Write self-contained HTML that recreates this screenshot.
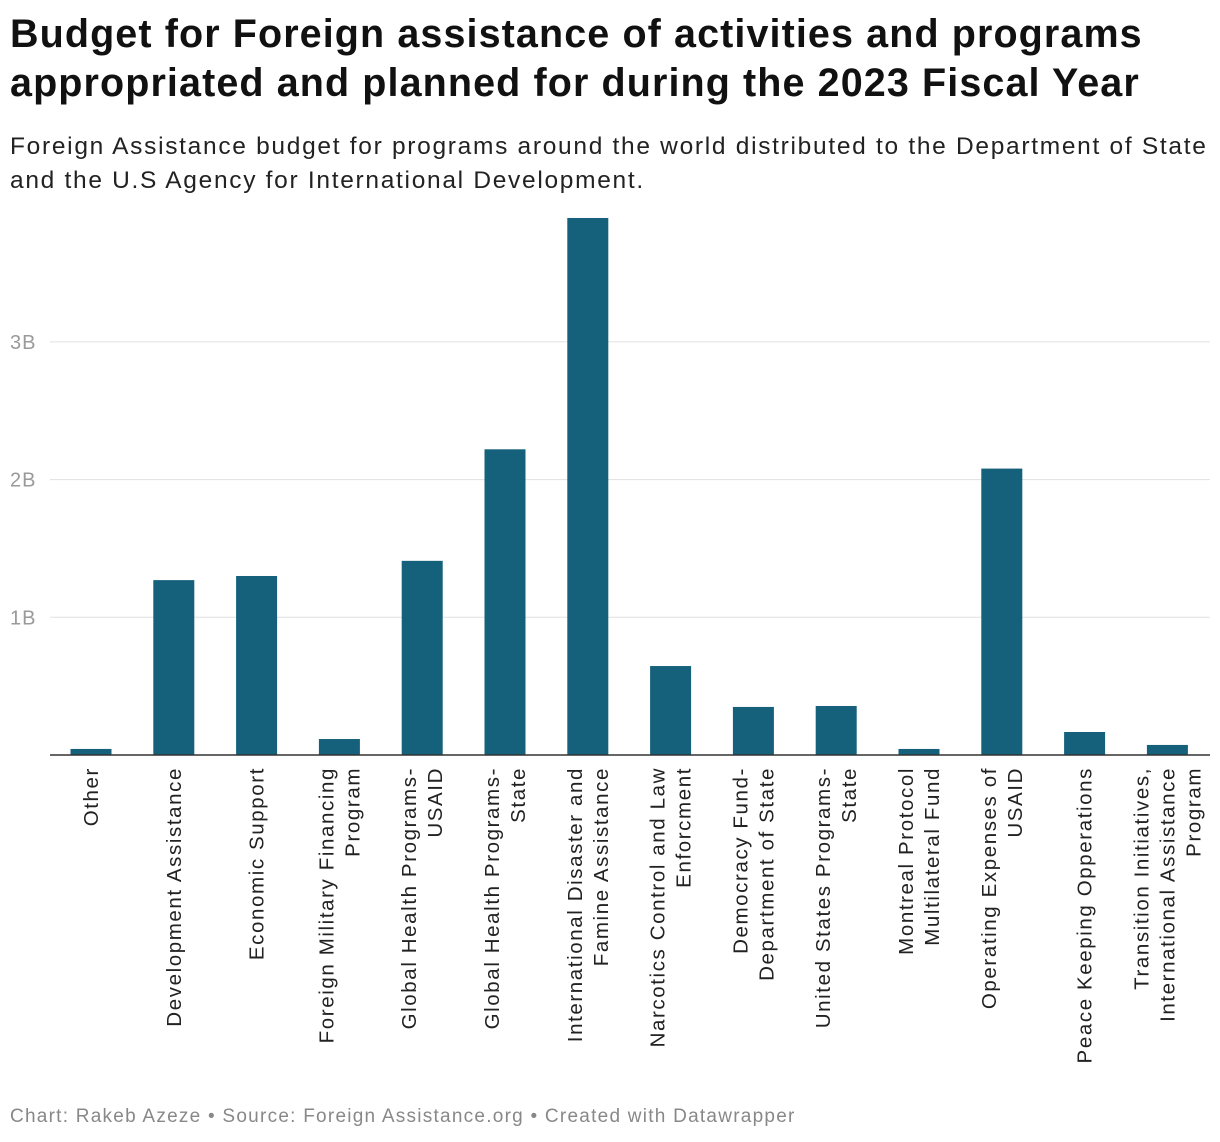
<!DOCTYPE html>
<html><head><meta charset="utf-8"><style>
body{margin:0;background:#fff;font-family:"Liberation Sans",Arial,sans-serif;}
#wrap{position:relative;width:1220px;height:1142px;overflow:hidden}
h1{position:absolute;left:10px;top:10px;margin:0;font-size:39.5px;line-height:49px;font-weight:bold;color:#111;letter-spacing:1.1px;white-space:nowrap}
.sub{position:absolute;left:10px;top:130px;margin:0;font-size:24.5px;line-height:34px;color:#222;letter-spacing:1.7px;white-space:nowrap}
.foot{position:absolute;left:10px;top:1106px;font-size:19px;color:#888;letter-spacing:1.25px}
svg{position:absolute;left:0;top:0}
</style></head><body>
<div id="wrap">
<h1>Budget for Foreign assistance of activities and programs<br>appropriated and planned for during the 2023 Fiscal Year</h1>
<p class="sub">Foreign Assistance budget for programs around the world distributed to the Department of State<br>and the U.S Agency for International Development.</p>
<svg id="chart" width="1220" height="1142"></svg>
<div class="foot">Chart: Rakeb Azeze • Source: Foreign Assistance.org • Created with Datawrapper</div>
</div>
<script>
const categories=[["Other"],["Development Assistance"],["Economic Support"],["Foreign Military Financing","Program"],["Global Health Programs-","USAID"],["Global Health Programs-","State"],["International Disaster and","Famine Assistance"],["Narcotics Control and Law","Enforcment"],["Democracy Fund-","Department of State"],["United States Programs-","State"],["Montreal Protocol","Multilateral Fund"],["Operating Expenses of","USAID"],["Peace Keeping Opperations"],["Transition Initiatives,","International Assistance","Program"]];
const values=[0.044,1.27,1.30,0.116,1.41,2.22,3.90,0.646,0.349,0.356,0.044,2.08,0.167,0.073];
const ticks=[1,2,3];
const tickLabels=["1B","2B","3B"];
const NS="http://www.w3.org/2000/svg";
const svg=document.getElementById('chart');
const y0=755,pxPerB=137.7,x0=91,step=82.8,bw=41;
const y=v=>y0-v*pxPerB;
const x=i=>x0+i*step;
function mk(t,a){const e=document.createElementNS(NS,t);for(const k in a)e.setAttribute(k,a[k]);svg.appendChild(e);return e;}
ticks.forEach((t,i)=>{
 const l=mk('line',{x1:50,x2:1210,y1:y(t),y2:y(t),stroke:'#e0e0e0','stroke-width':1});
 
 
 const tx=mk('text',{x:10,y:y(t)+7,'font-size':20,fill:'#9a9a9a','letter-spacing':1,'font-family':'Liberation Sans, Arial, sans-serif'});
 tx.textContent=tickLabels[i];
 
 
});
values.forEach((v,i)=>{
 const r=mk('rect',{x:x(i)-bw/2,y:y(v),width:bw,height:y0-y(v),fill:'#15607a'});
 
 
 const lines=categories[i],n=lines.length;
 lines.forEach((s,j)=>{
  const off=(j-(n-1)/2)*26+7;
  const t=mk('text',{x:-767,y:x(i)+off,transform:'rotate(-90)','text-anchor':'end','font-size':20.5,'letter-spacing':1.6,fill:'#222','font-family':'Liberation Sans, Arial, sans-serif'});
  t.textContent=s;
  
  
 });
});
const ax=mk('line',{x1:50,x2:1210,y1:y0,y2:y0,stroke:'#333','stroke-width':1.5});


</script>
</body></html>
